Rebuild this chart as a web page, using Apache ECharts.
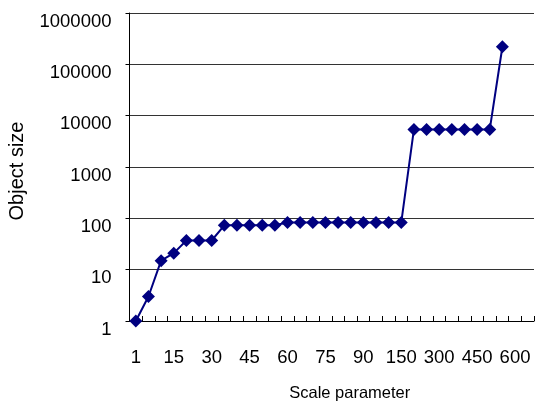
<!DOCTYPE html>
<html>
<head>
<meta charset="utf-8">
<script src="https://cdn.jsdelivr.net/npm/echarts@6/dist/echarts.min.js"></script>
<style>
html,body{margin:0;padding:0;background:#fff;}
#chart{width:535px;height:403px;}
</style>
</head>
<body>
<div id="chart"></div>
<script>
const categories = ['1','5','10','15','20','25','30','35','40','45','50','55','60','65','70','75','80','85','90','110','130','150','200','250','300','350','400','450','500','550','600',''];
const objectSize = [1,3,15,21,37,37,37,73,73,73,73,73,83,83,83,83,83,83,83,83,83,83,5400,5400,5400,5400,5400,5400,5400,220000,null,null];
const xTitle = 'Scale parameter';
const yTitle = 'Object size';

const chart = echarts.init(document.getElementById('chart'));
const font = 'Liberation Sans, Arial, sans-serif';
chart.setOption({
  animation: false,
  grid: {left: 129.5, right: 1, top: 13, bottom: 82, containLabel: false, outerBoundsMode: 'none'},
  xAxis: {
    type: 'category',
    data: categories,
    boundaryGap: true,
    name: xTitle,
    nameLocation: 'middle',
    nameGap: 64,
    nameTextStyle: {fontFamily: font, fontSize: 16.5, color: '#000', padding: [0, 0, 0, 36]},
    axisLine: {lineStyle: {color: '#000', width: 1}},
    axisTick: {show: true, inside: true, length: 5, interval: 0, lineStyle: {color: '#000'}},
    axisLabel: {interval: 2, margin: 27, fontFamily: font, fontSize: 18.5, color: '#000'},
    splitLine: {show: false}
  },
  yAxis: {
    type: 'log',
    logBase: 10,
    min: 1,
    max: 1000000,
    name: yTitle,
    nameLocation: 'middle',
    nameGap: 102,
    nameTextStyle: {fontFamily: font, fontSize: 20, color: '#000', padding: [0, 8, 0, 0]},
    axisLine: {show: true, lineStyle: {color: '#000', width: 1}},
    axisTick: {show: true, length: 4, lineStyle: {color: '#000'}},
    axisLabel: {
      margin: 18, fontFamily: font, fontSize: 18.5, color: '#000',
      verticalAlign: 'top', lineHeight: 17,
      formatter: function (v) { return String(Math.round(v)); }
    },
    splitLine: {show: true, lineStyle: {color: '#333', width: 1}}
  },
  series: [{
    type: 'line',
    data: objectSize,
    symbol: 'diamond',
    symbolSize: 13,
    showAllSymbol: true,
    connectNulls: false,
    lineStyle: {color: '#000080', width: 2},
    itemStyle: {color: '#000080'}
  }]
});
</script>
</body>
</html>
